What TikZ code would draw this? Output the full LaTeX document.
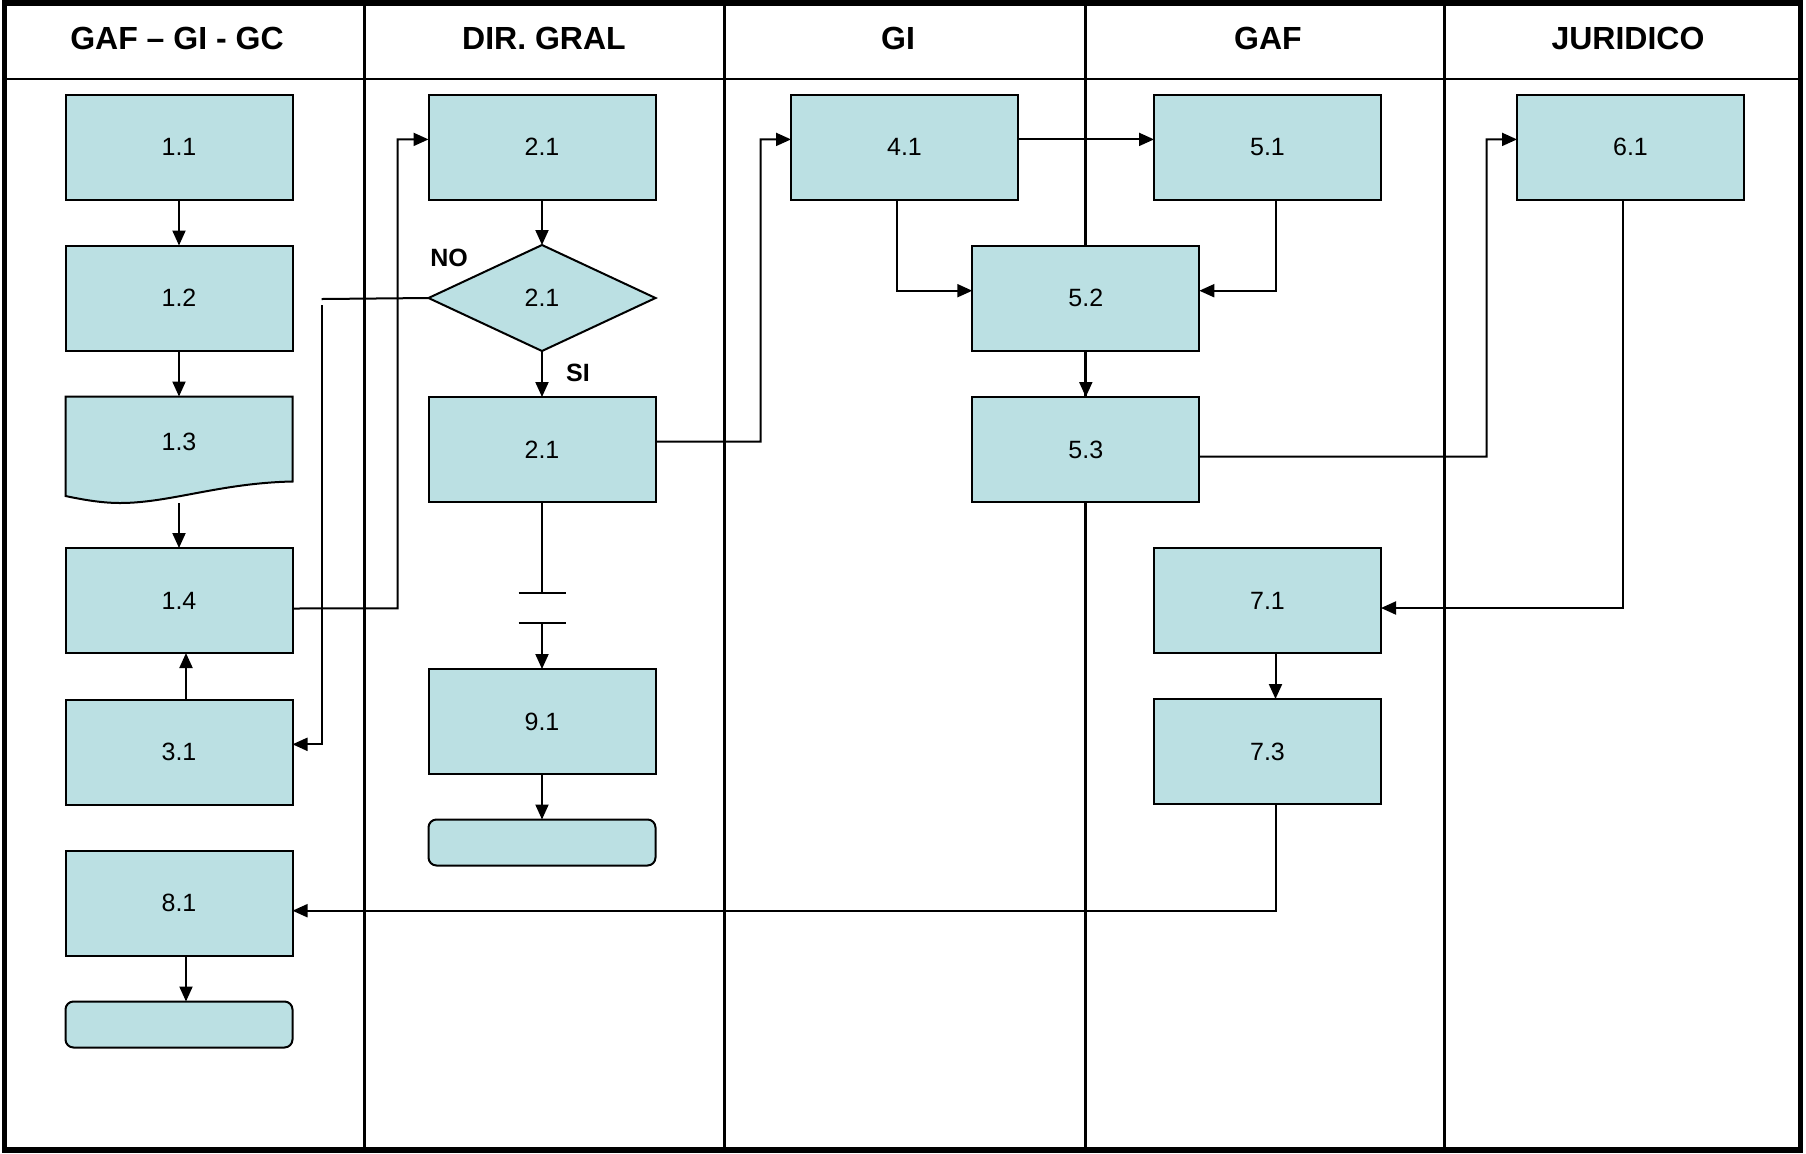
\documentclass[tikz,border=0pt]{standalone}
\usepackage{fontspec}
\setmainfont{Liberation Sans}
\usetikzlibrary{arrows.meta,shapes.geometric}
\definecolor{boxfill}{RGB}{187,224,227}
\begin{document}
\begin{tikzpicture}[x=0.5pt,y=-0.5pt,
  stepbox/.style={draw=black,fill=boxfill,line width=1pt,minimum width=113.5pt,minimum height=52.5pt,inner sep=0pt,outer sep=0pt,font=\fontsize{12.5}{14}\selectfont},
  termbox/.style={draw=black,fill=boxfill,line width=1pt,rounded corners=4pt,minimum width=113.5pt,minimum height=23pt,inner sep=0pt,outer sep=0pt},
  decbox/.style={diamond,draw=black,fill=boxfill,line width=1pt,minimum width=113.5pt,minimum height=53pt,inner sep=0pt,outer sep=0pt,font=\fontsize{12.5}{14}\selectfont},
  lbl/.style={font=\fontsize{12.5}{14}\selectfont},
  hdr/.style={font=\bfseries\fontsize{16}{19}\selectfont},
  yn/.style={font=\bfseries\fontsize{12.5}{14}\selectfont},
  lane/.style={line width=1.5pt},
  line/.style={line width=1pt},
  conn/.style={line width=1pt,-{Triangle[length=7.5pt,width=6.5pt]}}]
\useasboundingbox (0,0) rectangle (1806,1153);
\fill[white] (0,0) rectangle (1806,1153);
% lanes
\foreach \xx in {364,724.5,1085,1444}{\draw[lane] (\xx,3) -- (\xx,1150);}
\draw[line] (4,79) -- (1801,79);
\draw[line width=2.75pt] (4.5,3) rectangle (1800.5,1150);
% headers
\node[hdr] (h1) at (177,38) {GAF – GI - GC};
\node[hdr] (h2) at (544,38) {DIR. GRAL};
\node[hdr] (h3) at (898,38) {GI};
\node[hdr] (h4) at (1268,38) {GAF};
\node[hdr] (h5) at (1628,38) {JURIDICO};
% column 1
\node[stepbox] (b11) at (179,147) {1.1};
\node[stepbox] (b12) at (179,298) {1.2};
\draw[line,fill=boxfill] (65.5,396.5) -- (292.5,396.5) -- (292.5,481.5)
  .. controls (220,483) and (170,503) .. (120,503)
  .. controls (100,503) and (80,499) .. (65.5,496) -- cycle;
\node[lbl] (b13) at (179,442) {1.3};
\coordinate (d13top) at (179,396.5);
\coordinate (d13bot) at (179,503);
\node[stepbox] (b14) at (179,600.5) {1.4};
\node[stepbox] (b31) at (179,752) {3.1};
\node[stepbox] (b81) at (179,903) {8.1};
\node[termbox] (t1) at (179,1024.5) {};
% column 2
\node[stepbox] (b21a) at (542,147) {2.1};
\node[decbox] (d21) at (542,298) {2.1};
\node[stepbox] (b21b) at (542,449.5) {2.1};
\node[stepbox] (b91) at (542,721.5) {9.1};
\node[termbox] (t2) at (542,842.5) {};
\node[yn] (no) at (449,257.5) {NO};
\node[yn] (si) at (578,372.5) {SI};
% column 3-5
\node[stepbox] (b41) at (904.5,147) {4.1};
\node[stepbox] (b51) at (1267.5,147) {5.1};
\node[stepbox] (b52) at (1085.8,298) {5.2};
\node[stepbox] (b53) at (1085.8,449.5) {5.3};
\node[stepbox] (b61) at (1630.5,147) {6.1};
\node[stepbox] (b71) at (1267.5,600.5) {7.1};
\node[stepbox] (b73) at (1267.5,751.5) {7.3};
% connectors
\draw[conn] (b11.south) -- (b12.north);
\draw[conn] (b12.south) -- (d13top);
\draw[conn] (d13bot) -- (b14.north);
\draw[conn] ([xshift=3.5pt]b31.north) -- ([xshift=3.5pt]b14.south);
\draw[conn] ([xshift=3.5pt]b81.south) -- ([xshift=3.5pt]t1.north);
\draw[conn] ([yshift=-4pt]b14.east) -- (397.5,608.3) -- (397.5,139.4) -- ([yshift=3.8pt]b21a.west);
\coordinate (nocorner) at (321.7,299);
\coordinate (nostart) at (321.7,305);
\draw[line] (d21.west) -- (nocorner);
\draw[conn] (nostart) -- (321.7,744.3) -- ([yshift=3.85pt]b31.east);
\draw[conn] (b21a.south) -- (d21.north);
\draw[conn] (d21.south) -- (b21b.north);
\draw[conn] ([yshift=3.9pt]b21b.east) -- (760.7,441.7) -- (760.7,139.4) -- ([yshift=3.8pt]b41.west);
\coordinate (brk1) at (542,593.3);
\coordinate (brk2) at (542,623.3);
\draw[line] (b21b.south) -- (brk1);
\draw[line] ([xshift=-11.75pt]brk1) -- ([xshift=11.75pt]brk1);
\draw[line] ([xshift=-11.75pt]brk2) -- ([xshift=11.75pt]brk2);
\draw[conn] (brk2) -- (b91.north);
\draw[conn] (b91.south) -- (t2.north);
\draw[conn] ([yshift=3.8pt]b41.east) -- ([yshift=3.8pt]b51.west);
\draw[conn] ([xshift=-3.75pt]b41.south) |- ([yshift=3.65pt]b52.west);
\draw[conn] ([xshift=4pt]b51.south) |- ([yshift=3.65pt]b52.east);
\draw[conn] (b52.south) -- (b53.north);
\draw[conn] ([yshift=-3.6pt]b53.east) -- (1486.7,456.7) -- (1486.7,139.4) -- ([yshift=3.8pt]b61.west);
\draw[conn] ([xshift=-3.75pt]b61.south) |- ([yshift=-3.75pt]b71.east);
\draw[conn] ([xshift=4pt]b71.south) -- ([xshift=4pt]b73.north);
\draw[conn] ([xshift=4pt]b73.south) |- ([yshift=-3.85pt]b81.east);
\end{tikzpicture}
\end{document}
